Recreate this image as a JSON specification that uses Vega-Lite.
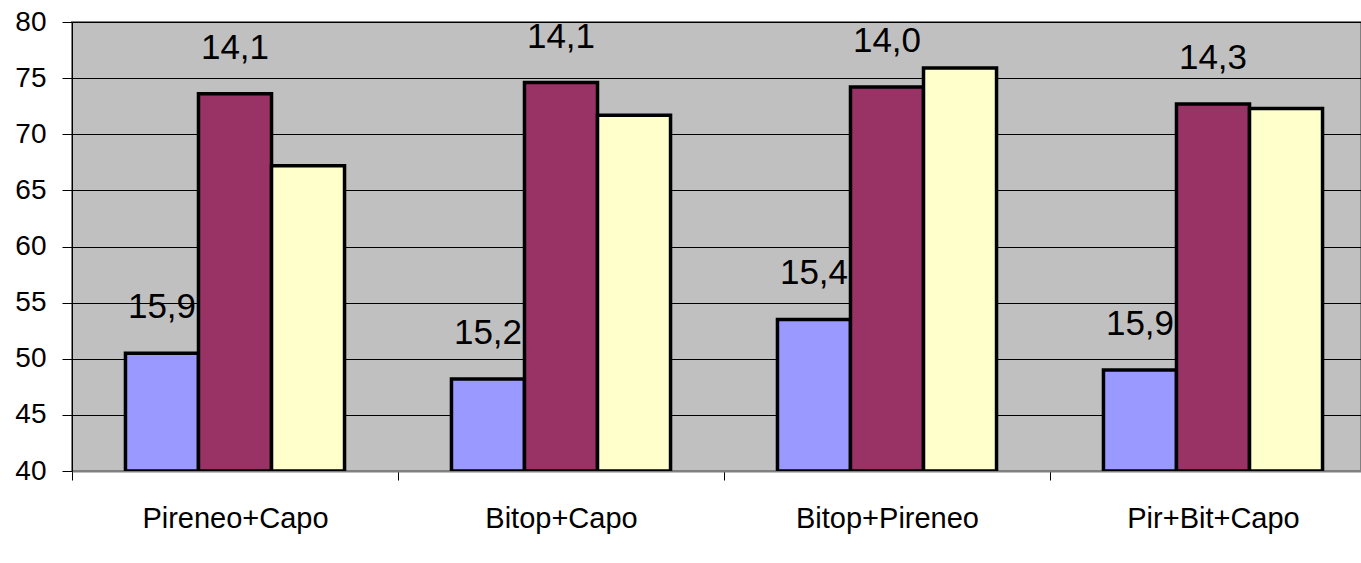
{
  "$schema": "https://vega.github.io/schema/vega-lite/v6.json",
  "width": 1289,
  "height": 449,
  "autosize": "none",
  "padding": {"left": 72, "top": 22, "right": 0, "bottom": 92},
  "background": "white",
  "config": {
    "view": {"fill": "#C0C0C0", "stroke": "#808080", "strokeWidth": 2},
    "font": "Liberation Sans"
  },
  "data": {
    "values": [
      {"group": "Pireneo+Capo", "series": "A", "value": 50.5, "label": "15,9"},
      {"group": "Pireneo+Capo", "series": "B", "value": 73.6, "label": "14,1"},
      {"group": "Pireneo+Capo", "series": "C", "value": 67.2, "label": ""},
      {"group": "Bitop+Capo", "series": "A", "value": 48.2, "label": "15,2"},
      {"group": "Bitop+Capo", "series": "B", "value": 74.6, "label": "14,1"},
      {"group": "Bitop+Capo", "series": "C", "value": 71.7, "label": ""},
      {"group": "Bitop+Pireneo", "series": "A", "value": 53.5, "label": "15,4"},
      {"group": "Bitop+Pireneo", "series": "B", "value": 74.2, "label": "14,0"},
      {"group": "Bitop+Pireneo", "series": "C", "value": 75.9, "label": ""},
      {"group": "Pir+Bit+Capo", "series": "A", "value": 49.0, "label": "15,9"},
      {"group": "Pir+Bit+Capo", "series": "B", "value": 72.7, "label": "14,3"},
      {"group": "Pir+Bit+Capo", "series": "C", "value": 72.3, "label": ""}
    ]
  },
  "encoding": {
    "x": {
      "field": "group",
      "type": "nominal",
      "sort": null,
      "scale": {"range": [0, 1304], "paddingInner": 0.328, "paddingOuter": 0.164},
      "axis": {
        "title": null,
        "labelAngle": 0,
        "labelFontSize": 29,
        "labelColor": "black",
        "labelPadding": 24,
        "labelLimit": 0,
        "labelOffset": 163,
        "domainColor": "#808080",
        "domainWidth": 2,
        "tickColor": "black",
        "tickSize": 9,
        "tickOffset": -163,
        "grid": false
      }
    },
    "xOffset": {"field": "series", "type": "nominal", "sort": null},
    "y": {
      "field": "value",
      "type": "quantitative",
      "scale": {"domain": [40, 80], "zero": false, "nice": false},
      "axis": {
        "title": null,
        "values": [40, 45, 50, 55, 60, 65, 70, 75, 80],
        "labelFontSize": 28,
        "labelColor": "black",
        "labelPadding": 16,
        "tickSize": 10,
        "tickColor": "black",
        "domainColor": "black",
        "grid": true,
        "gridColor": "black",
        "gridWidth": 1
      }
    }
  },
  "layer": [
    {
      "mark": {"type": "bar", "stroke": "black", "strokeWidth": 3.5, "clip": true},
      "encoding": {
        "y2": {"datum": 40},
        "color": {
          "field": "series",
          "type": "nominal",
          "scale": {"domain": ["A", "B", "C"], "range": ["#9999FF", "#993366", "#FFFFCC"]},
          "legend": null
        }
      }
    },
    {
      "transform": [{"filter": "datum.label != ''"}],
      "mark": {"type": "text", "fontSize": 35, "dy": -35, "baseline": "alphabetic", "color": "black"},
      "encoding": {"text": {"field": "label"}}
    }
  ]
}
